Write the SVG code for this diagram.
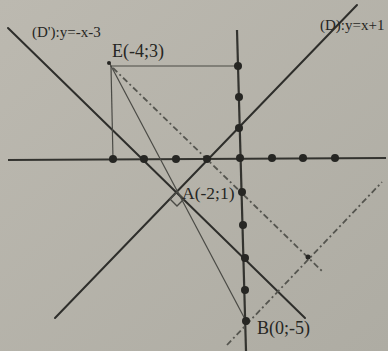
<svg xmlns="http://www.w3.org/2000/svg" width="388" height="351" viewBox="0 0 388 351">
<defs>
<linearGradient id="bg" x1="0" y1="0" x2="1" y2="1">
<stop offset="0" stop-color="#bcb9b0"/>
<stop offset="1" stop-color="#aeaca3"/>
</linearGradient>
</defs>
<style>
.thick{stroke:#2e2e2b;stroke-width:2;fill:none;stroke-linecap:round}
.axis{stroke:#33332f;stroke-width:2.2;fill:none}
.thin{stroke:#4a4a45;stroke-width:1.2;fill:none}
.dash{stroke:#55554f;stroke-width:1.8;fill:none;stroke-dasharray:6 3 2 3}
.dot{fill:#262623}
.lbl{font-family:"Liberation Serif",serif;fill:#262623}
</style>
<rect width="388" height="351" fill="url(#bg)"/>
<g id="connectors">
<line class="axis" x1="8" y1="160" x2="386" y2="158"/>
<line class="axis" x1="237" y1="30" x2="246" y2="351"/>
<line class="thick" x1="55" y1="318" x2="357" y2="5"/>
<line class="thick" x1="8" y1="28" x2="305" y2="318"/>
<line class="thin" x1="110" y1="64" x2="246" y2="321"/>
<line class="thin" x1="110" y1="66" x2="238" y2="66"/>
<line class="thin" x1="111" y1="66" x2="113" y2="159"/>
<line class="dash" x1="113" y1="68" x2="323" y2="272"/>
<line class="dash" x1="227" y1="345" x2="382" y2="182"/>
<path class="thin" d="M177,192 L170,199 L177,206 L184,199 Z" style="stroke-width:1.4"/>
</g>
<g id="axis-ticks">
<circle class="dot" cx="113" cy="159" r="4"/>
<circle class="dot" cx="144" cy="159" r="4"/>
<circle class="dot" cx="176" cy="159" r="4"/>
<circle class="dot" cx="207" cy="159" r="4"/>
<circle class="dot" cx="240" cy="158" r="4"/>
<circle class="dot" cx="272" cy="158" r="4"/>
<circle class="dot" cx="303" cy="158" r="4"/>
<circle class="dot" cx="335" cy="158" r="4"/>
<circle class="dot" cx="238" cy="66" r="4"/>
<circle class="dot" cx="239" cy="97" r="4"/>
<circle class="dot" cx="239" cy="128" r="4"/>
<circle class="dot" cx="243" cy="225" r="4"/>
<circle class="dot" cx="245" cy="258" r="4"/>
<circle class="dot" cx="245" cy="290" r="4"/>
</g>
<g id="D-label"><text class="lbl" x="320" y="30" font-size="15">(D):y=x+1</text></g>
<g id="Dp-label"><text class="lbl" x="32" y="37" font-size="15">(D'):y=-x-3</text></g>
<g id="E"><circle class="dot" cx="109" cy="63" r="2"/><text class="lbl" x="112" y="57" font-size="18">E(-4;3)</text></g>
<g id="A"><circle class="dot" cx="242" cy="192" r="4"/><text class="lbl" x="182" y="199" font-size="17.5">A(-2;1)</text></g>
<g id="B"><circle class="dot" cx="246" cy="321" r="4"/><text class="lbl" x="257" y="334" font-size="18">B(0;-5)</text></g>
<g id="I"><circle class="dot" cx="308" cy="257" r="2.5"/></g>
</svg>
